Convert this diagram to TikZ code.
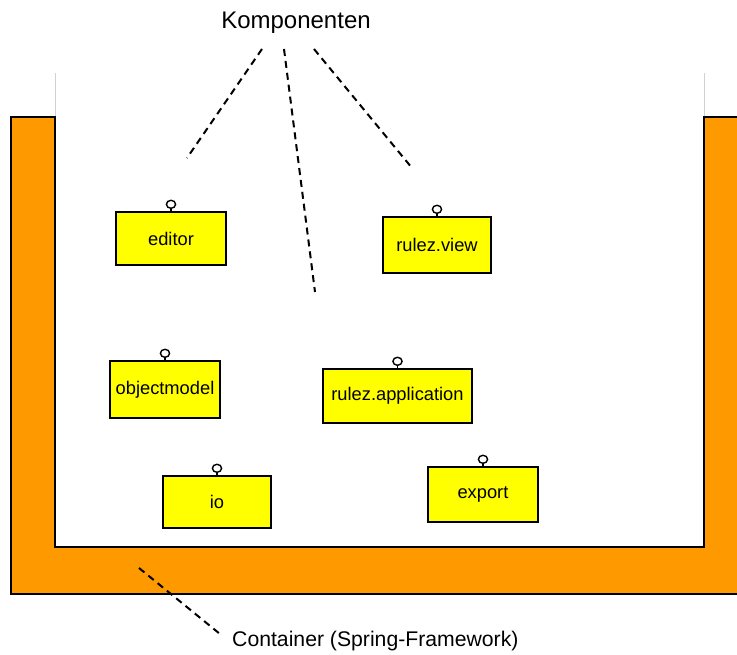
\documentclass[tikz,border=0pt]{standalone}
\usepackage{fontspec}
\setmainfont{Liberation Sans}
\begin{document}
\begin{tikzpicture}[x=1pt,y=-1pt,
  comp/.style={draw=black,line width=1.8pt,fill=compyellow,inner sep=0pt,
    font=\fontsize{18.3}{21}\selectfont},
  pointer/.style={line width=2pt,dash pattern=on 7pt off 5pt},
  label/.style={inner sep=0pt},
]
\definecolor{compyellow}{HTML}{FFFF00}
\definecolor{containerorange}{HTML}{FF9900}
\useasboundingbox (0,0) rectangle (737,655);

% container walls
\draw[line width=1.6pt,fill=containerorange]
  (11,117) -- (55,117) -- (55,547) -- (704,547) -- (704,117)
  -- (745,117) -- (745,594) -- (11,594) -- cycle;
\draw[gray!35,line width=1pt] (55,73) -- (55,116) (704,73) -- (704,116);

% components with their interface lollipops
\newcommand{\comp}[5]{%
  \node[comp,minimum width=#3,minimum height=#4] (#1) at #2 {#5};
  \draw[line width=1.6pt] (#1.north) -- ++(0,-11) coordinate (#1-stem);
  \draw[line width=1.4pt,fill=white] ([yshift=-4.2pt]#1-stem) circle[x radius=4.6pt,y radius=4pt];
}
\comp{editor}{(171,238.5)}{110pt}{53pt}{editor}
\comp{view}{(437,245)}{108pt}{56pt}{rulez.view}
\comp{objmodel}{(165,389.5)}{110pt}{57pt}{objectmodel}
\comp{app}{(397.5,396)}{149pt}{54pt}{rulez.application}
\comp{io}{(217,502)}{108pt}{52pt}{io}
\comp{export}{(483,494.5)}{110pt}{55pt}{export}

% labels
\node[label,font=\fontsize{24}{28}\selectfont] (komp) at (296,23) {Komponenten};
\node[label,anchor=west,font=\fontsize{21.2}{25}\selectfont] (cont) at (232,641) {Container (Spring-Framework)};

% pointer lines
\coordinate (k1) at (262,49);
\coordinate (k2) at (284,49);
\coordinate (k3) at (314,49);
\coordinate (e1) at (187,158);
\coordinate (e2) at (315,292);
\coordinate (e3) at (412,168);
\coordinate (c1) at (139,568);
\coordinate (c2) at (220,634);
\draw[pointer] (k1) -- (e1);
\draw[pointer] (k2) -- (e2);
\draw[pointer] (k3) -- (e3);
\draw[pointer] (c1) -- (c2);
\end{tikzpicture}
\end{document}
